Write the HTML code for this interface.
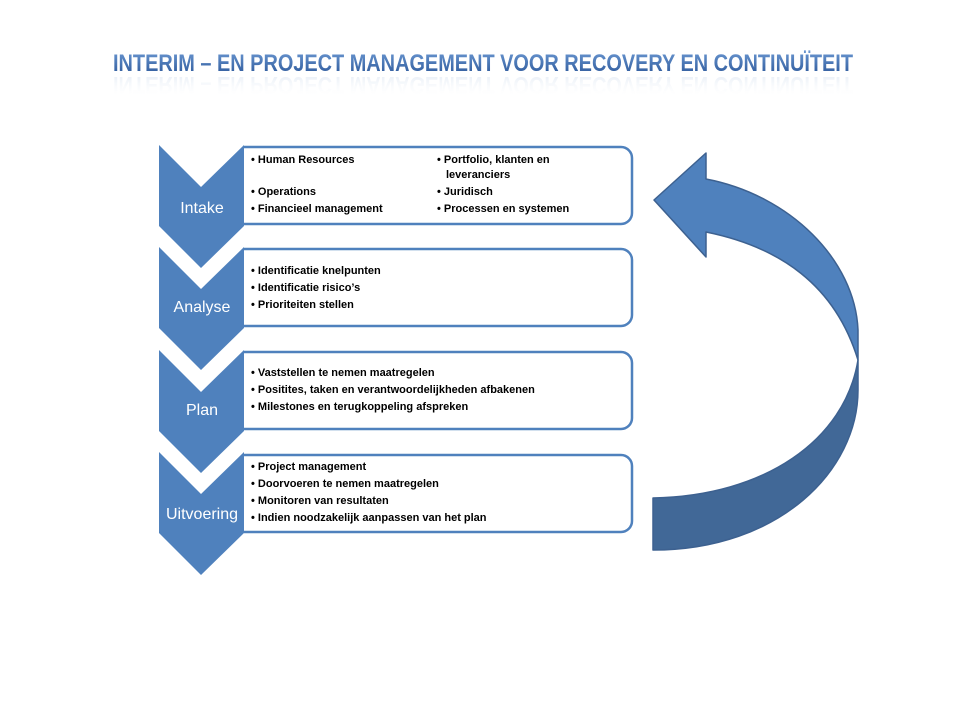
<!DOCTYPE html>
<html><head><meta charset="utf-8"><style>
html,body{margin:0;padding:0;background:#fff;}
svg{display:block}
.t{font-family:"Liberation Sans",sans-serif;font-size:11px;font-weight:bold;fill:#000;}
.c{font-family:"Liberation Sans",sans-serif;font-size:16px;fill:#fff;}
</style></head><body>
<svg width="960" height="720" viewBox="0 0 960 720" xmlns="http://www.w3.org/2000/svg">
<defs>
<linearGradient id="tg" x1="0" y1="0" x2="0" y2="1">
<stop offset="0" stop-color="#6b98d2"/><stop offset="1" stop-color="#2a5597"/>
</linearGradient>
<linearGradient id="rg" x1="0" y1="0" x2="0" y2="1">
<stop offset="0" stop-color="#fff" stop-opacity="0"/><stop offset="1" stop-color="#9fb8da" stop-opacity="0.8"/>
</linearGradient>
</defs>
<text x="483" y="71" text-anchor="middle" textLength="740" lengthAdjust="spacingAndGlyphs" font-family="Liberation Sans,sans-serif" font-weight="bold" font-size="24" fill="url(#tg)">INTERIM – EN PROJECT MANAGEMENT VOOR RECOVERY EN CONTINUÏTEIT</text>
<g transform="translate(0,148) scale(1,-1)">
<text x="483" y="71" text-anchor="middle" textLength="740" lengthAdjust="spacingAndGlyphs" font-family="Liberation Sans,sans-serif" font-weight="bold" font-size="24" fill="url(#rg)" opacity="0.4">INTERIM – EN PROJECT MANAGEMENT VOOR RECOVERY EN CONTINUÏTEIT</text>
</g>

<g fill="#fff" stroke="#4f81bd" stroke-width="2.5">
<path d="M244,147 H621 A11,11 0 0 1 632,158 V213 A11,11 0 0 1 621,224 H244"/>
<path d="M244,249 H621 A11,11 0 0 1 632,260 V315 A11,11 0 0 1 621,326 H244"/>
<path d="M244,352 H621 A11,11 0 0 1 632,363 V418 A11,11 0 0 1 621,429 H244"/>
<path d="M244,455 H621 A11,11 0 0 1 632,466 V521 A11,11 0 0 1 621,532 H244"/>
</g>
<g fill="#4f81bd">
<path d="M159,145 L201,187 L244,145 L244,226 L201,268 L159,226 Z"/>
<path d="M159,247 L201,289 L244,247 L244,328 L201,370 L159,328 Z"/>
<path d="M159,350 L201,392 L244,350 L244,431 L201,473 L159,431 Z"/>
<path d="M159,452 L201,494 L244,452 L244,533 L201,575 L159,533 Z"/>
</g>
<text class="c" x="202" y="213" text-anchor="middle">Intake</text>
<text class="c" x="202" y="312" text-anchor="middle">Analyse</text>
<text class="c" x="202" y="415" text-anchor="middle">Plan</text>
<text class="c" x="202" y="519" text-anchor="middle">Uitvoering</text>

<g class="t">
<text x="251" y="163">• Human Resources</text>
<text x="251" y="195">• Operations</text>
<text x="251" y="212">• Financieel management</text>
<text x="437" y="163">• Portfolio, klanten en</text>
<text x="446" y="178">leveranciers</text>
<text x="437" y="195">• Juridisch</text>
<text x="437" y="212">• Processen en systemen</text>

<text x="251" y="274">• Identificatie knelpunten</text>
<text x="251" y="291">• Identificatie risico’s</text>
<text x="251" y="308">• Prioriteiten stellen</text>

<text x="251" y="376">• Vaststellen te nemen maatregelen</text>
<text x="251" y="393">•  Positites, taken en verantwoordelijkheden afbakenen</text>
<text x="251" y="410">• Milestones en terugkoppeling afspreken</text>

<text x="251" y="470">• Project management</text>
<text x="251" y="487">• Doorvoeren te nemen maatregelen</text>
<text x="251" y="504">• Monitoren van resultaten</text>
<text x="251" y="521">• Indien noodzakelijk  aanpassen  van het plan</text>
</g>

<g stroke="#3d6190" stroke-width="1.5" stroke-linejoin="round">
<path d="M858,360 C845,440 765,496 653,498 L653,550 C780,550 858,470 858,390 Z" fill="#416897"/>
<path d="M654,200 L706,153 L706,179 C790,195 855,260 858,330 L858,360 C835,285 780,247 706,232 L706,257 Z" fill="#4f81bd"/>
</g>
</svg>
</body></html>
